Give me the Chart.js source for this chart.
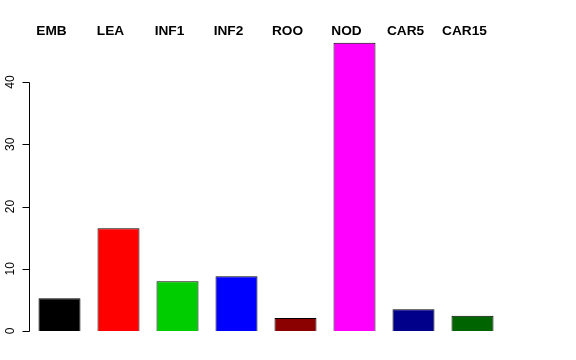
<!DOCTYPE html>
<html>
<head>
<meta charset="utf-8">
<script src="https://cdn.jsdelivr.net/npm/chart.js@4.4.0/dist/chart.umd.min.js"></script>
<style>
html,body{margin:0;padding:0;background:#fff;}
#wrap{width:576px;height:360px;position:relative;}
</style>
</head>
<body>
<div id="wrap"><canvas id="c" width="576" height="360"></canvas></div>
<script>
const categories = ["EMB","LEA","INF1","INF2","ROO","NOD","CAR5","CAR15"];
const values = [5.25, 16.5, 8.0, 8.8, 2.1, 46.3, 3.5, 2.45];
const barColors = ["#000000","#FF0000","#00CD00","#0000FF","#8B0000","#FF00FF","#00008B","#006400"];
const yTicks = [0,10,20,30,40];

const rAxis = {
  id: 'rAxis',
  afterDraw(chart) {
    const ctx = chart.ctx;
    const y = chart.scales.y;
    const x = chart.scales.x;
    const x0 = chart.chartArea.left;
    ctx.save();
    ctx.strokeStyle = '#000';
    ctx.lineWidth = 1;
    const yTop = Math.round(y.getPixelForValue(yTicks[yTicks.length-1])) + 0.5;
    const yBot = Math.round(y.getPixelForValue(yTicks[0])) + 0.5;
    const xl = Math.round(x0) - 0.5;
    ctx.beginPath();
    ctx.moveTo(xl, yTop); ctx.lineTo(xl, yBot);
    yTicks.forEach(t => {
      const py = Math.round(y.getPixelForValue(t)) + 0.5;
      ctx.moveTo(xl, py); ctx.lineTo(xl - 7, py);
    });
    ctx.stroke();
    ctx.fillStyle = '#000';
    ctx.font = '12px "Liberation Sans", Arial, sans-serif';
    ctx.textAlign = 'center';
    ctx.textBaseline = 'middle';
    yTicks.forEach(t => {
      const py = y.getPixelForValue(t);
      ctx.save();
      ctx.translate(xl - 19, py);
      ctx.rotate(-Math.PI/2);
      ctx.fillText(String(t), 0, 0);
      ctx.restore();
    });
    // top category labels
    ctx.font = 'bold 12px "Liberation Sans", Arial, sans-serif';
    ctx.textAlign = 'center';
    categories.forEach((c, i) => {
      const px = x.getPixelForValue(i) - 8;
      ctx.save();
      ctx.translate(px, 31.5);
      ctx.scale(1.14, 1);
      ctx.fillText(c, 0, 0);
      ctx.restore();
    });
    ctx.restore();
  }
};

new Chart(document.getElementById('c'), {
  type: 'bar',
  data: {
    labels: categories,
    datasets: [{
      data: values,
      backgroundColor: barColors,
      borderColor: '#000',
      borderWidth: 1,
      barPercentage: 0.712,
      categoryPercentage: 1.0
    }]
  },
  options: {
    responsive: false,
    animation: false,
    devicePixelRatio: 1,
    layout: { padding: { left: 30, right: 74, top: 20, bottom: 29 } },
    plugins: { legend: { display: false }, tooltip: { enabled: false } },
    scales: {
      x: { display: false },
      y: { display: false, min: 0, max: 49.96 }
    }
  },
  plugins: [rAxis]
});
</script>
</body>
</html>
